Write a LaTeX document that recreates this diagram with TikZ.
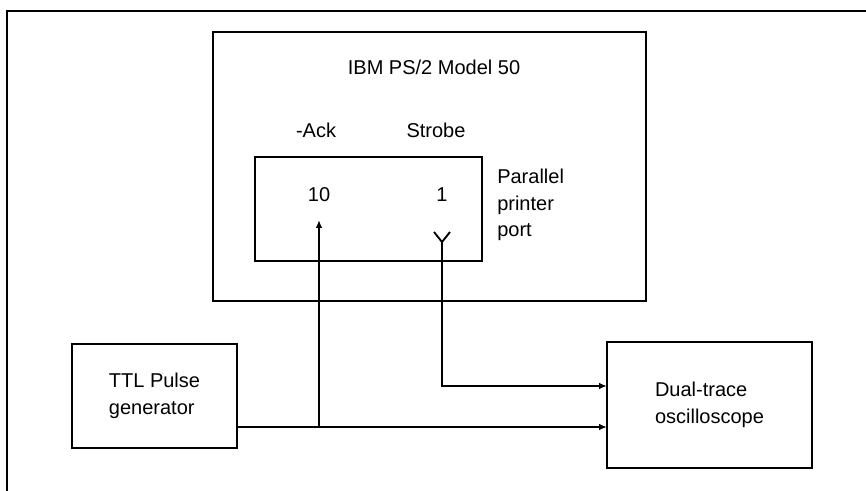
\documentclass[tikz,border=0pt]{standalone}
\usepackage{fontspec}
\setmainfont{Liberation Sans}
\usepackage{tikz}
\usetikzlibrary{arrows.meta,positioning,calc}

\begin{document}
\begin{tikzpicture}[x=0.75pt,y=-0.75pt,
  blk/.style={rectangle,draw,line width=1.4pt,inner sep=0pt,outer sep=0pt,align=left,font=\fontsize{15}{20}\selectfont},
  lbl/.style={inner sep=0pt,align=left,font=\fontsize{15}{20}\selectfont},
  arr/.style={-{Latex[length=6pt,width=5pt]},line width=1.4pt},
  frm/.style={line width=1.2pt}
]
\useasboundingbox (0,0) rectangle (866,491);
\draw[frm] (7,491) -- (7,11) -- (866,11);
% computer and its port
\node[blk,minimum width=324.75pt,minimum height=201.75pt] (ps2) at (429.5,166.5) {};
\node[lbl] (title) at (434,67) {IBM PS/2 Model 50};
\node[blk,minimum width=170.25pt,minimum height=78pt] (port) at (368.5,209) {};
\node[lbl] (ack) at (316,130) {-Ack};
\node[lbl] (strobe) at (436,130) {Strobe};
\node[lbl] (pin10) at (319,195) {10};
\node[lbl] (pin1) at (442,195) {1};
\node[lbl,anchor=west] (portlbl) at (497,205) {Parallel\\printer\\port};
% generator and scope
\node[blk,minimum width=123.75pt,minimum height=78pt] (gen) at (154.5,396) {TTL Pulse\\generator};
\node[blk,minimum width=153.75pt,minimum height=94.5pt] (scope) at (709.5,405) {Dual-trace\\oscilloscope};
\coordinate (ackpin) at (319,220);
\coordinate (stbpin) at (442,242);
\coordinate (genout) at ([yshift=-23.25pt]gen.east);
\draw[arr] (genout) -- (genout -| scope.west);
\draw[arr] (genout -| ackpin) -- (ackpin);
\draw[line width=1.4pt] (stbpin) -- ++(-8,-10) (stbpin) -- ++(8,-10);
\draw[arr] (stbpin) |- ([yshift=14.25pt]scope.west);
\end{tikzpicture}
\end{document}
